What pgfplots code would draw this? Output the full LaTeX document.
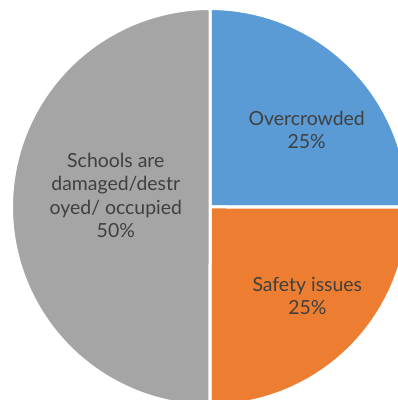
\documentclass[border=0pt]{standalone}
\usepackage{pgfplots}
\usepackage{pgfplotstable}
\pgfplotsset{compat=1.18}
\usepackage{fontspec}
\setmainfont{Lato}
\definecolor{cblue}{HTML}{5B9BD5}
\definecolor{corange}{HTML}{ED7D31}
\definecolor{cgray}{HTML}{A5A5A5}
\definecolor{ctext}{HTML}{404040}
\pgfplotstableread{
label value
Overcrowded 25
Safety 25
Schools 50
}\piedata
\pgfplotstablegetelem{0}{value}\of\piedata \let\vA\pgfplotsretval
\pgfplotstablegetelem{1}{value}\of\piedata \let\vB\pgfplotsretval
\pgfplotstablegetelem{2}{value}\of\piedata \let\vC\pgfplotsretval
\pgfmathsetmacro{\aA}{90}
\pgfmathsetmacro{\aB}{90-3.6*\vA}
\pgfmathsetmacro{\aC}{\aB-3.6*\vB}
\pgfmathsetmacro{\aD}{\aC-3.6*\vC}
\def\cx{210}
\def\cy{193}
\def\R{198.5}
\begin{document}
\begin{tikzpicture}
\begin{axis}[name=ax, at={(0,0)}, anchor=south west,
  scale only axis, width=398bp, height=400bp,
  xmin=0, xmax=398, ymin=0, ymax=400, hide axis, clip=true]
\addplot[fill=cblue, draw=white, line width=3bp, line join=round, domain=\aB:\aA, samples=90, variable=\t]
  ({\cx+\R*cos(\t)},{\cy+\R*sin(\t)}) -- (axis cs:\cx,\cy) -- cycle;
\addplot[fill=corange, draw=white, line width=3bp, line join=round, domain=\aC:\aB, samples=90, variable=\t]
  ({\cx+\R*cos(\t)},{\cy+\R*sin(\t)}) -- (axis cs:\cx,\cy) -- cycle;
\addplot[fill=cgray, draw=white, line width=3bp, line join=round, domain=\aD:\aC, samples=180, variable=\t]
  ({\cx+\R*cos(\t)},{\cy+\R*sin(\t)}) -- (axis cs:\cx,\cy) -- cycle;
\node[align=center, text=ctext, font=\fontsize{19.5}{23.4}\selectfont] at (axis cs:306.7,270.3) {Overcrowded\\25\%};
\node[align=center, text=ctext, font=\fontsize{19.5}{23.4}\selectfont] at (axis cs:307.3,104) {Safety issues\\25\%};
\node[align=center, text=ctext, font=\fontsize{19.5}{23.4}\selectfont] at (axis cs:115.8,204.7) {Schools are\\damaged/destr\\oyed/ occupied\\50\%};
\end{axis}
\pgfresetboundingbox
\path (ax.south west) rectangle (ax.north east);
\end{tikzpicture}
\end{document}
